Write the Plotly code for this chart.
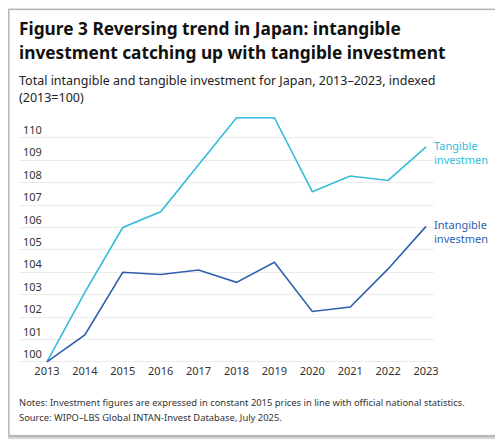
import plotly.graph_objects as go

# Data ----------------------------------------------------------------
years = [2013, 2014, 2015, 2016, 2017, 2018, 2019, 2020, 2021, 2022, 2023]
tangible = [100.0, 103.1, 106.0, 106.7, 108.8, 110.9, 110.9, 107.6, 108.3, 108.1, 109.6]
intangible = [100.0, 101.2, 104.0, 103.9, 104.1, 103.55, 104.45, 102.25, 102.45, 104.15, 106.05]
y_ticks = [100, 101, 102, 103, 104, 105, 106, 107, 108, 109, 110]

TANG = "#35bcd9"
INTANG = "#2f5fac"
FONT = "Noto Sans"

# the page puts the figure 8px in from the top-left corner
OFF = 8
W, H = 503 - OFF, 443 - OFF
L, R = 20 - OFF, 434 - OFF          # plot area in px
T, B = 110.7 - OFF, 363.4 - OFF

fig = go.Figure()

fig.add_trace(go.Scatter(x=years, y=tangible, mode="lines",
                         line=dict(color=TANG, width=1.6), hoverinfo="skip"))
fig.add_trace(go.Scatter(x=years, y=intangible, mode="lines",
                         line=dict(color=INTANG, width=1.6), hoverinfo="skip"))

# end labels
fig.add_annotation(x=years[-1], y=tangible[-1], text="Tangible<br>investmen",
                   xanchor="left", yanchor="top", xshift=6, yshift=11,
                   showarrow=False, align="left",
                   font=dict(family=FONT, size=11, color=TANG))
fig.add_annotation(x=years[-1], y=intangible[-1], text="Intangible<br>investmen",
                   xanchor="left", yanchor="top", xshift=6, yshift=11,
                   showarrow=False, align="left",
                   font=dict(family=FONT, size=11, color=INTANG))


def px_x(p):
    # p in reference-picture pixels
    return (p - OFF - L) / (R - L)


def px_y(p):
    return (B - (p - OFF)) / (B - T)


# title / subtitle / notes
texts = [
    ("<b>Figure 3 Reversing trend in Japan: intangible</b>", 28, 17.3, "#111111"),
    ("<b>investment catching up with tangible investment</b>", 52, 17.3, "#111111"),
    ("Total intangible and tangible investment for Japan, 2013–2023, indexed", 80, 12.5, "#222222"),
    ("(2013=100)", 97, 12.5, "#222222"),
    ("Notes: Investment figures are expressed in constant 2015 prices in line with official national statistics.", 403, 9.4, "#333333"),
    ("Source: WIPO–LBS Global INTAN-Invest Database, July 2025.", 418, 9.4, "#333333"),
]
for txt, ypx, size, col in texts:
    fig.add_annotation(xref="paper", yref="paper", x=px_x(17), y=px_y(ypx),
                       xanchor="left", yanchor="middle", text=txt, showarrow=False,
                       font=dict(family=FONT, size=size, color=col))

# card frame with soft shadow
for off, col in [(3, "#e4e4e4"), (2, "#d0d0d0"), (1, "#bdbdbd")]:
    fig.add_shape(type="rect", xref="paper", yref="paper",
                  x0=px_x(9), x1=px_x(497 + off),
                  y0=px_y(436 + off), y1=px_y(9),
                  line=dict(color=col, width=1.5), layer="below")
fig.add_shape(type="rect", xref="paper", yref="paper",
              x0=px_x(9), x1=px_x(497), y0=px_y(436), y1=px_y(9),
              line=dict(color="#b0b0b0", width=1), fillcolor="white", layer="below")

fig.update_xaxes(range=[2012.29, 2023.21], tickvals=years, showgrid=False,
                 zeroline=False, showline=False, ticks="",
                 tickfont=dict(family=FONT, size=11, color="#333333"))
fig.update_yaxes(range=[99.95, 111.2], tickvals=y_ticks, showgrid=True,
                 gridcolor="#ebebeb", gridwidth=1, zeroline=False, showline=False,
                 ticks="", ticklabelposition="inside top",
                 tickfont=dict(family=FONT, size=11, color="#333333"))

fig.update_layout(width=W, height=H, showlegend=False,
                  margin=dict(l=L, r=W - R, t=T, b=H - B, pad=0),
                  paper_bgcolor="white", plot_bgcolor="rgba(0,0,0,0)",
                  font=dict(family=FONT))

fig.write_html("out.html")
